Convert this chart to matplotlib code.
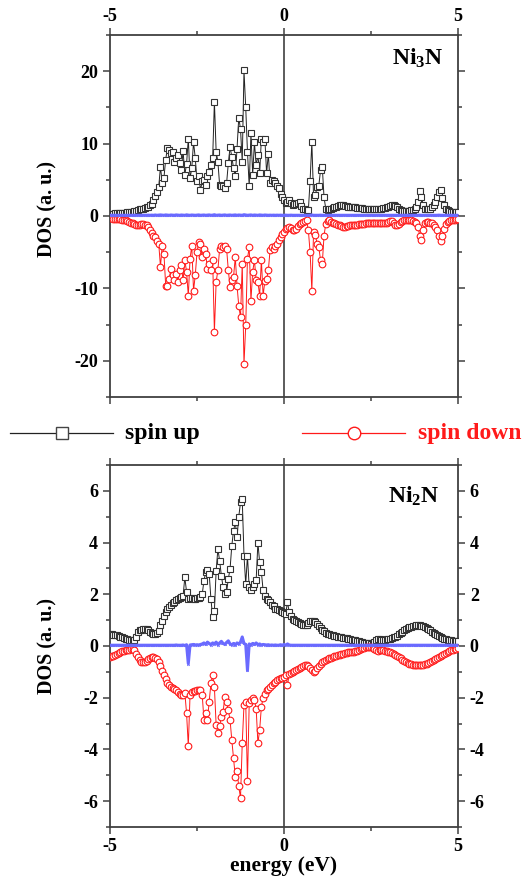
import numpy as np
import matplotlib
matplotlib.use("Agg")
import matplotlib.pyplot as plt
from matplotlib.lines import Line2D
from matplotlib.ticker import MultipleLocator

plt.rcParams['font.family'] = ['Liberation Serif', 'DejaVu Serif']
plt.rcParams['font.weight'] = 'bold'
plt.rcParams['mathtext.fontset'] = 'custom'
plt.rcParams['mathtext.rm'] = 'Liberation Serif:bold'
plt.rcParams['mathtext.it'] = 'Liberation Serif:bold'
plt.rcParams['mathtext.bf'] = 'Liberation Serif:bold'

# energy grid (eV), 0.05 eV step from -5 to 5
energy = np.round(np.arange(201) * 0.05 - 5.0, 2)

# ---------------- Ni3N ----------------
ni3n_up = [
    0.30, 0.32, 0.33, 0.35, 0.37, 0.38, 0.40, 0.42, 0.45, 0.48,
    0.50, 0.55, 0.58, 0.62, 0.68, 0.75, 0.82, 0.90, 0.95, 1.00,
    1.10, 1.20, 1.30, 1.50, 1.70, 2.20, 2.80, 3.30, 4.00, 6.80,
    4.60, 5.30, 7.80, 9.40, 9.10, 8.70, 8.90, 7.50, 8.00, 8.40,
    7.30, 6.40, 9.00, 5.70, 7.20, 10.70, 5.20, 6.60, 10.20, 8.00,
    4.80, 5.50, 3.60, 4.80, 5.00, 4.30, 5.50, 6.10, 7.00, 8.00,
    15.80, 8.90, 7.50, 4.30, 4.20, 4.10, 3.90, 4.50, 7.30, 9.50,
    8.20, 6.60, 5.50, 9.30, 13.60, 12.00, 7.50, 20.10, 15.00, 8.90,
    4.10, 11.40, 5.70, 10.20, 7.00, 8.40, 5.90, 10.70, 10.20, 10.70,
    5.90, 8.60, 4.50, 5.00, 4.80, 4.60, 4.10, 3.80, 3.00, 2.60,
    2.20, 1.80, 2.00, 2.20, 1.80, 1.50, 1.60, 1.70, 1.80, 1.90,
    1.40, 1.00, 0.90, 0.80, 0.80, 4.90, 10.20, 2.60, 2.90, 4.00,
    4.20, 6.30, 6.80, 2.60, 1.00, 0.80, 0.90, 1.00, 1.10, 1.20,
    1.30, 1.40, 1.50, 1.50, 1.50, 1.40, 1.40, 1.30, 1.30, 1.20,
    1.20, 1.20, 1.10, 1.10, 1.10, 1.10, 1.00, 1.00, 1.00, 1.00,
    1.00, 1.00, 1.00, 1.00, 1.00, 1.00, 1.00, 1.10, 1.10, 1.20,
    1.30, 1.40, 1.50, 1.50, 1.40, 1.20, 1.00, 0.80, 0.70, 0.70,
    0.70, 0.70, 0.70, 0.80, 0.80, 0.90, 1.30, 2.00, 3.50, 2.60,
    1.50, 1.00, 0.90, 0.90, 1.00, 1.20, 1.50, 2.00, 2.60, 3.30,
    3.60, 2.50, 1.50, 1.00, 0.80, 0.70, 0.60, 0.60, 0.50, 0.50,
    0.50,
]

ni3n_down = [
    -0.30, -0.32, -0.35, -0.37, -0.40, -0.42, -0.45, -0.50, -0.55, -0.60,
    -0.70, -0.80, -0.90, -1.00, -1.10, -1.20, -1.25, -1.20, -1.10, -1.10,
    -1.20, -1.30, -1.50, -2.00, -2.40, -2.70, -2.90, -3.40, -3.80, -7.00,
    -4.10, -5.20, -9.60, -9.70, -8.70, -7.30, -8.20, -8.90, -8.00, -9.10,
    -7.50, -6.80, -8.90, -6.10, -7.70, -11.00, -5.90, -4.10, -10.30, -8.20,
    -5.00, -3.60, -3.80, -5.70, -4.50, -5.30, -7.30, -6.60, -7.50, -6.10,
    -16.00, -9.10, -7.50, -4.50, -4.10, -4.30, -4.20, -4.50, -7.50, -9.80,
    -8.90, -8.40, -5.70, -9.60, -12.40, -14.00, -6.60, -20.50, -15.10, -5.90,
    -4.30, -11.70, -7.70, -6.10, -8.90, -9.10, -11.00, -6.10, -11.00, -9.00,
    -8.70, -7.50, -4.70, -4.30, -4.50, -4.20, -3.80, -3.30, -2.90, -2.50,
    -2.20, -1.80, -1.60, -1.50, -1.70, -2.00, -1.90, -1.75, -1.40, -1.10,
    -0.90, -0.80, -0.70, -0.60, -2.00, -5.00, -10.30, -2.20, -2.60, -3.80,
    -4.30, -6.10, -6.60, -2.70, -1.10, -0.70, -0.60, -0.80, -0.90, -1.00,
    -1.10, -1.20, -1.30, -1.40, -1.50, -1.50, -1.40, -1.40, -1.30, -1.30,
    -1.30, -1.20, -1.20, -1.10, -1.10, -1.10, -1.10, -1.00, -1.00, -1.00,
    -1.00, -1.00, -1.00, -1.00, -1.00, -1.00, -1.00, -1.00, -1.00, -0.90,
    -0.80, -0.70, -0.70, -0.90, -1.20, -1.30, -1.10, -0.80, -0.70, -0.60,
    -0.60, -0.60, -0.60, -0.60, -0.70, -0.80, -1.00, -1.50, -2.70, -3.30,
    -2.00, -1.00, -0.80, -0.80, -0.90, -1.00, -1.20, -1.50, -2.00, -2.70,
    -3.40, -2.80, -1.80, -1.10, -0.80, -0.70, -0.60, -0.50, -0.50, -0.45,
    -0.40,
]

ni3n_diff = [
    0.10, 0.10, 0.10, 0.10, 0.10, 0.10, 0.10, 0.10, 0.10, 0.10,
    0.10, 0.10, 0.10, 0.10, 0.10, 0.10, 0.10, 0.10, 0.10, 0.10,
    0.10, 0.10, 0.12, 0.10, 0.12, 0.10, 0.14, 0.10, 0.12, 0.15,
    0.12, 0.10, 0.15, 0.12, 0.10, 0.14, 0.12, 0.10, 0.15, 0.12,
    0.10, 0.14, 0.12, 0.10, 0.16, 0.12, 0.10, 0.14, 0.12, 0.10,
    0.12, 0.15, 0.10, 0.12, 0.14, 0.10, 0.12, 0.15, 0.10, 0.12,
    0.18, 0.10, 0.12, 0.14, 0.10, 0.12, 0.15, 0.10, 0.12, 0.14,
    0.10, 0.12, 0.15, 0.10, 0.14, 0.12, 0.10, 0.18, 0.14, 0.10,
    0.12, 0.15, 0.10, 0.14, 0.12, 0.10, 0.15, 0.12, 0.10, 0.14,
    0.12, 0.10, 0.12, 0.10, 0.12, 0.10, 0.12, 0.10, 0.12, 0.10,
    0.10, 0.12, 0.10, 0.10, 0.12, 0.10, 0.10, 0.10, 0.10, 0.10,
    0.10, 0.10, 0.10, 0.10, 0.10, 0.12, 0.14, 0.10, 0.10, 0.10,
    0.10, 0.12, 0.10, 0.10, 0.10, 0.10, 0.10, 0.10, 0.10, 0.10,
    0.10, 0.10, 0.10, 0.10, 0.10, 0.10, 0.10, 0.10, 0.10, 0.10,
    0.10, 0.10, 0.10, 0.10, 0.10, 0.10, 0.10, 0.10, 0.10, 0.10,
    0.10, 0.10, 0.10, 0.10, 0.10, 0.10, 0.10, 0.10, 0.10, 0.10,
    0.10, 0.10, 0.10, 0.10, 0.10, 0.10, 0.10, 0.10, 0.10, 0.10,
    0.10, 0.10, 0.10, 0.10, 0.10, 0.10, 0.10, 0.10, 0.12, 0.10,
    0.10, 0.10, 0.10, 0.10, 0.10, 0.10, 0.10, 0.10, 0.10, 0.12,
    0.10, 0.10, 0.10, 0.10, 0.10, 0.10, 0.10, 0.10, 0.10, 0.10,
    0.10,
]

# ---------------- Ni2N ----------------
ni2n_up = [
    0.48, 0.46, 0.44, 0.43, 0.41, 0.39, 0.36, 0.33, 0.30, 0.28,
    0.26, 0.24, 0.22, 0.22, 0.22, 0.35, 0.54, 0.60, 0.63, 0.66,
    0.67, 0.66, 0.62, 0.55, 0.50, 0.46, 0.45, 0.50, 0.58, 0.82,
    0.98, 1.15, 1.30, 1.44, 1.52, 1.60, 1.65, 1.70, 1.76, 1.81,
    1.87, 1.90, 1.94, 2.65, 2.10, 1.82, 1.85, 1.84, 1.83, 1.82,
    1.84, 1.85, 1.90, 2.00, 2.53, 2.85, 2.92, 2.80, 1.82, 1.12,
    1.37, 2.90, 3.75, 3.30, 2.72, 2.27, 2.00, 2.08, 2.60, 2.98,
    3.88, 4.46, 4.78, 4.20, 5.00, 5.55, 5.68, 3.50, 2.40, 3.49,
    2.27, 2.15, 2.27, 2.40, 2.55, 4.00, 3.24, 2.85, 2.15, 1.95,
    1.82, 1.76, 1.70, 1.60, 1.55, 1.45, 1.42, 1.38, 1.34, 1.31,
    1.28, 1.25, 1.70, 1.30, 1.15, 1.06, 1.02, 0.96, 0.92, 0.88,
    0.85, 0.82, 0.80, 0.82, 0.88, 0.95, 0.98, 0.96, 0.92, 0.85,
    0.78, 0.70, 0.63, 0.57, 0.52, 0.48, 0.45, 0.43, 0.41, 0.39,
    0.37, 0.35, 0.34, 0.33, 0.32, 0.31, 0.30, 0.28, 0.26, 0.25,
    0.24, 0.22, 0.20, 0.18, 0.16, 0.14, 0.13, 0.12, 0.11, 0.10,
    0.09, 0.10, 0.15, 0.22, 0.28, 0.26, 0.23, 0.22, 0.24, 0.26,
    0.26, 0.28, 0.30, 0.33, 0.36, 0.40, 0.45, 0.50, 0.56, 0.62,
    0.66, 0.70, 0.73, 0.75, 0.77, 0.79, 0.80, 0.80, 0.80, 0.79,
    0.77, 0.74, 0.70, 0.65, 0.60, 0.55, 0.50, 0.45, 0.41, 0.37,
    0.34, 0.31, 0.29, 0.27, 0.25, 0.23, 0.22, 0.21, 0.20, 0.19,
    0.18,
]

ni2n_down = [
    -0.42, -0.40, -0.37, -0.34, -0.30, -0.27, -0.24, -0.21, -0.19, -0.17,
    -0.15, -0.14, -0.13, -0.13, -0.16, -0.30, -0.42, -0.55, -0.60, -0.62,
    -0.62, -0.58, -0.52, -0.47, -0.43, -0.42, -0.45, -0.52, -0.62, -0.78,
    -0.95, -1.12, -1.28, -1.42, -1.51, -1.57, -1.62, -1.68, -1.72, -1.78,
    -1.84, -1.88, -1.90, -1.80, -2.60, -3.87, -1.90, -1.77, -1.75, -1.73,
    -1.72, -1.71, -1.71, -1.90, -2.86, -2.60, -2.86, -2.16, -1.45, -1.13,
    -1.60, -3.06, -3.38, -3.10, -2.74, -2.54, -1.97, -2.16, -2.48, -2.86,
    -3.64, -4.34, -5.05, -4.85, -5.43, -5.88, -3.76, -2.29, -2.16, -5.24,
    -2.22, -2.10, -2.03, -2.10, -2.42, -3.76, -3.25, -2.35, -2.00, -1.84,
    -1.71, -1.66, -1.58, -1.50, -1.45, -1.38, -1.33, -1.28, -1.25, -1.22,
    -1.18, -1.13, -1.51, -1.10, -1.05, -1.00, -0.96, -0.92, -0.88, -0.84,
    -0.80, -0.77, -0.75, -0.75, -0.78, -0.85, -0.93, -1.00, -0.95, -0.87,
    -0.78, -0.68, -0.62, -0.58, -0.54, -0.50, -0.48, -0.45, -0.42, -0.40,
    -0.38, -0.36, -0.34, -0.32, -0.30, -0.28, -0.26, -0.25, -0.24, -0.23,
    -0.22, -0.20, -0.18, -0.15, -0.12, -0.09, -0.07, -0.05, -0.04, -0.04,
    -0.04, -0.06, -0.10, -0.15, -0.18, -0.17, -0.16, -0.17, -0.18, -0.20,
    -0.22, -0.25, -0.28, -0.31, -0.35, -0.39, -0.43, -0.48, -0.53, -0.58,
    -0.62, -0.66, -0.69, -0.71, -0.73, -0.74, -0.75, -0.75, -0.75, -0.74,
    -0.72, -0.70, -0.68, -0.65, -0.62, -0.58, -0.55, -0.51, -0.47, -0.43,
    -0.39, -0.35, -0.31, -0.27, -0.24, -0.20, -0.17, -0.14, -0.12, -0.10,
    -0.09,
]

ni2n_diff = [
    0.03, 0.03, 0.03, 0.03, 0.03, 0.03, 0.03, 0.03, 0.03, 0.03,
    0.03, 0.03, 0.03, 0.03, 0.03, 0.03, 0.03, 0.03, 0.03, 0.03,
    0.03, 0.03, 0.03, 0.03, 0.03, 0.03, 0.03, 0.03, 0.03, 0.03,
    0.03, 0.03, 0.03, 0.03, 0.03, 0.03, 0.03, 0.03, 0.04, 0.03,
    0.03, 0.03, 0.04, 0.02, 0.05, -0.68, 0.04, 0.05, 0.06, 0.04,
    0.05, 0.04, 0.06, 0.08, 0.12, 0.06, 0.15, 0.10, 0.05, 0.12,
    0.08, 0.15, 0.05, 0.12, 0.18, 0.10, 0.06, 0.14, 0.20, 0.08,
    0.05, 0.10, 0.04, 0.12, 0.08, 0.15, 0.35, 0.10, 0.06, -0.94,
    0.08, 0.04, 0.10, 0.06, 0.12, 0.05, 0.08, 0.04, 0.06, 0.05,
    0.04, 0.05, 0.03, 0.04, 0.03, 0.04, 0.03, 0.03, 0.05, 0.03,
    0.06, 0.03, 0.08, 0.04, 0.03, 0.03, 0.03, 0.03, 0.03, 0.03,
    0.03, 0.03, 0.03, 0.03, 0.03, 0.03, 0.03, 0.03, 0.03, 0.03,
    0.03, 0.03, 0.03, 0.03, 0.03, 0.03, 0.03, 0.03, 0.03, 0.03,
    0.03, 0.03, 0.03, 0.03, 0.03, 0.03, 0.03, 0.03, 0.03, 0.03,
    0.03, 0.03, 0.03, 0.03, 0.03, 0.03, 0.03, 0.03, 0.03, 0.03,
    0.03, 0.03, 0.03, 0.03, 0.03, 0.03, 0.03, 0.03, 0.03, 0.03,
    0.03, 0.03, 0.03, 0.03, 0.03, 0.03, 0.03, 0.03, 0.03, 0.03,
    0.03, 0.03, 0.03, 0.03, 0.03, 0.03, 0.03, 0.03, 0.03, 0.03,
    0.03, 0.03, 0.03, 0.03, 0.03, 0.03, 0.03, 0.03, 0.03, 0.03,
    0.03, 0.03, 0.03, 0.03, 0.03, 0.03, 0.03, 0.03, 0.03, 0.03,
    0.03,
]

x_ticks = [-5, 0, 5]
ni3n_yticks = [-20, -10, 0, 10, 20]
ni2n_yticks = [-6, -4, -2, 0, 2, 4, 6]
panel_labels = [r"Ni$_{3}$N", r"Ni$_{2}$N"]
legend_labels = ["spin up", "spin down"]

W, H = 530, 877
fig = plt.figure(figsize=(W / 100, H / 100), dpi=100)

spine_c = '#404040'
UP_C = '#222222'
DN_C = '#ff1a1a'
BL_C = '#6a6aff'


def frac_box(x0, y0, x1, y1):
    return [x0 / W, 1 - y1 / H, (x1 - x0) / W, (y1 - y0) / H]


ax1 = fig.add_axes(frac_box(110, 35, 458, 397))
ax2 = fig.add_axes(frac_box(110, 465, 458, 827))


def draw(ax, up, down, diff, ylim, minor, yticks):
    ax.plot(energy, up, '-', color=UP_C, lw=0.7, marker='s', ms=4.3,
            mfc='white', mec='#333333', mew=0.8, zorder=3)
    ax.plot(energy, down, '-', color=DN_C, lw=0.7, marker='o', ms=4.8,
            mfc='white', mec=DN_C, mew=0.8, zorder=3)
    ax.plot(energy, diff, '-', color=BL_C, lw=2.2, marker='^', ms=1.8,
            mfc='none', mec=BL_C, mew=0.4, zorder=4)
    ax.axvline(0, color=spine_c, lw=1.2, zorder=2)
    ax.set_xlim(-5, 5)
    ax.set_ylim(*ylim)
    ax.set_xticks(x_ticks)
    ax.xaxis.set_minor_locator(MultipleLocator(2.5))
    ax.set_yticks(yticks)
    ax.yaxis.set_minor_locator(MultipleLocator(minor))
    for s in ax.spines.values():
        s.set_color(spine_c)
        s.set_linewidth(1.3)
    ax.tick_params(which='both', color=spine_c, width=1.1, labelsize=13)
    ax.tick_params(which='major', length=5)
    ax.tick_params(which='minor', length=3)
    ax.tick_params(axis='y', which='both', left=True, right=True)
    ax.tick_params(axis='x', which='both', top=True, bottom=True)
    ax.set_ylabel("DOS (a. u.)", fontsize=14.5, fontweight='bold')


draw(ax1, ni3n_up, ni3n_down, ni3n_diff, (-25, 25), 5, ni3n_yticks)
ax1.tick_params(axis='x', labeltop=True, labelbottom=False, pad=2)
ax1.tick_params(axis='y', labelleft=True, labelright=False)
ax1.set_yticklabels([str(v) for v in ni3n_yticks], fontweight='bold')
ax1.set_xticklabels([str(v) for v in x_ticks], fontweight='bold')
ax1.yaxis.set_label_coords(-0.15, 0.52)
ax1.text(0.81, 0.935, panel_labels[0], transform=ax1.transAxes,
         fontsize=17, fontweight='bold', va='center', ha='left')

draw(ax2, ni2n_up, ni2n_down, ni2n_diff, (-7, 7), 1, ni2n_yticks)
ax2.tick_params(axis='x', labeltop=False, labelbottom=True, pad=3)
ax2.tick_params(axis='y', labelleft=True, labelright=True)
ax2.set_yticklabels([str(v) for v in ni2n_yticks], fontweight='bold')
ax2.set_xticklabels([str(v) for v in x_ticks], fontweight='bold')
ax2.yaxis.set_label_coords(-0.15, 0.5)
ax2.set_xlabel("energy (eV)", fontsize=15.5, fontweight='bold', labelpad=1)
ax2.text(0.80, 0.914, panel_labels[1], transform=ax2.transAxes,
         fontsize=17, fontweight='bold', va='center', ha='left')

# legend between panels
ly = 1 - 433 / H
fig.add_artist(Line2D([10 / W, 113 / W], [ly, ly], transform=fig.transFigure,
                      color=UP_C, lw=0.9))
fig.add_artist(Line2D([62 / W], [ly], transform=fig.transFigure, marker='s',
                      ms=8, mfc='white', mec='#444444', mew=1.0, lw=0))
fig.text(125 / W, ly, legend_labels[0], fontsize=17, fontweight='bold',
         va='center', ha='left', color='black')
fig.add_artist(Line2D([302 / W, 405 / W], [ly, ly], transform=fig.transFigure,
                      color=DN_C, lw=0.9))
fig.add_artist(Line2D([354 / W], [ly], transform=fig.transFigure, marker='o',
                      ms=9, mfc='white', mec=DN_C, mew=1.0, lw=0))
fig.text(418 / W, ly, legend_labels[1], fontsize=17, fontweight='bold',
         va='center', ha='left', color=DN_C)

fig.savefig("out.png", dpi=100)
